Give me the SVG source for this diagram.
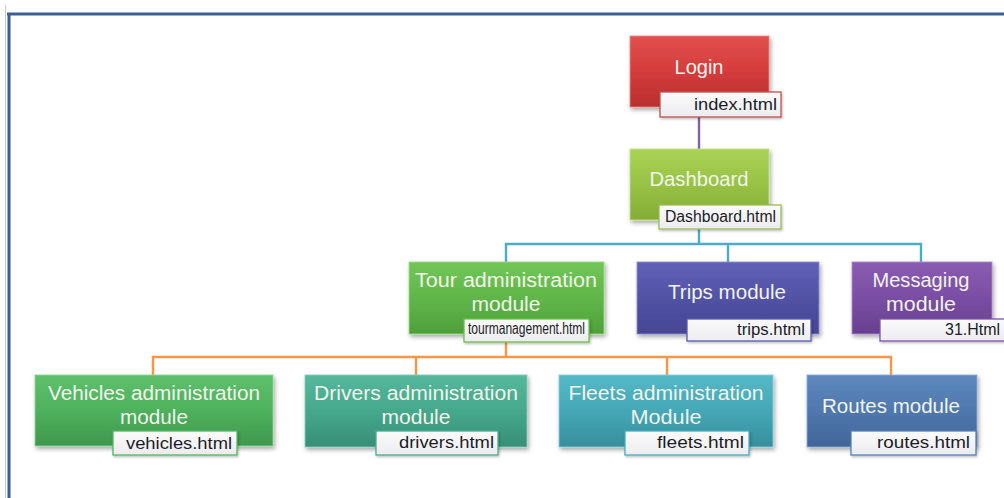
<svg xmlns="http://www.w3.org/2000/svg" width="1004" height="498" viewBox="0 0 1004 498">
  <defs>
    <filter id="shadow" x="-10%" y="-10%" width="125%" height="135%">
      <feDropShadow dx="1.5" dy="2.5" stdDeviation="2" flood-color="#000" flood-opacity="0.35"/>
    </filter>
    <filter id="tagShadow" x="-10%" y="-20%" width="125%" height="160%">
      <feDropShadow dx="1" dy="1.5" stdDeviation="1.2" flood-color="#000" flood-opacity="0.25"/>
    </filter>
    <linearGradient id="gRed" x1="0" y1="0" x2="0" y2="1">
      <stop offset="0" stop-color="#e2504f"/><stop offset="0.5" stop-color="#d43c3c"/><stop offset="1" stop-color="#b92f2f"/>
    </linearGradient>
    <linearGradient id="gLime" x1="0" y1="0" x2="0" y2="1">
      <stop offset="0" stop-color="#aad256"/><stop offset="0.5" stop-color="#98c245"/><stop offset="1" stop-color="#84ac36"/>
    </linearGradient>
    <linearGradient id="gGreen" x1="0" y1="0" x2="0" y2="1">
      <stop offset="0" stop-color="#72c658"/><stop offset="0.5" stop-color="#60b648"/><stop offset="1" stop-color="#4f9f3c"/>
    </linearGradient>
    <linearGradient id="gIndigo" x1="0" y1="0" x2="0" y2="1">
      <stop offset="0" stop-color="#6060b6"/><stop offset="0.5" stop-color="#5252a6"/><stop offset="1" stop-color="#464694"/>
    </linearGradient>
    <linearGradient id="gPurple" x1="0" y1="0" x2="0" y2="1">
      <stop offset="0" stop-color="#8a5cb2"/><stop offset="0.5" stop-color="#7a4ea4"/><stop offset="1" stop-color="#68408f"/>
    </linearGradient>
    <linearGradient id="gLeaf" x1="0" y1="0" x2="0" y2="1">
      <stop offset="0" stop-color="#5fc06c"/><stop offset="0.5" stop-color="#4eb15d"/><stop offset="1" stop-color="#3f984d"/>
    </linearGradient>
    <linearGradient id="gSea" x1="0" y1="0" x2="0" y2="1">
      <stop offset="0" stop-color="#55b89d"/><stop offset="0.5" stop-color="#45a88c"/><stop offset="1" stop-color="#378f77"/>
    </linearGradient>
    <linearGradient id="gTeal" x1="0" y1="0" x2="0" y2="1">
      <stop offset="0" stop-color="#55b8c6"/><stop offset="0.5" stop-color="#45a8b6"/><stop offset="1" stop-color="#378e9c"/>
    </linearGradient>
    <linearGradient id="gBlue" x1="0" y1="0" x2="0" y2="1">
      <stop offset="0" stop-color="#5e88be"/><stop offset="0.5" stop-color="#4f78ae"/><stop offset="1" stop-color="#416597"/>
    </linearGradient>
    <linearGradient id="gTag" x1="0" y1="0" x2="0" y2="1">
      <stop offset="0" stop-color="#fbfbfb"/><stop offset="1" stop-color="#ececf0"/>
    </linearGradient>
  </defs>
  <style>
    .box { filter: url(#shadow); stroke-width: 1.2; stroke-opacity: 0.7; }
    .tag { fill: url(#gTag); stroke-width: 1.3; filter: url(#tagShadow); }
    .title { font-family: "Liberation Sans", Arial, sans-serif; font-size: 20px; fill: #f2f4ec; text-anchor: middle; }
    .file { font-family: "Liberation Sans", Arial, sans-serif; font-size: 16px; fill: #1c1c28; text-anchor: end; }
    .link { fill: none; stroke-width: 2.4; }
  </style>

  <rect x="0" y="0" width="1004" height="498" fill="#ffffff"/>

  <!-- page frame -->
  <g id="frame">
    <line x1="5.5" y1="5" x2="5.5" y2="498" stroke="#c9c9c9" stroke-width="1"/>
    <line x1="7" y1="14" x2="1004" y2="14" stroke="#3d5e92" stroke-width="3"/>
    <line x1="9" y1="13" x2="9" y2="498" stroke="#3d5e92" stroke-width="3"/>
  </g>

  <!-- connectors -->
  <g id="connectors">
    <path class="link" stroke="#8064a2" d="M699 117 V149"/>
    <path class="link" stroke="#4bacc6" d="M699 229 V244 M506 262 V244 H921 V262 M728 244 V262"/>
    <path class="link" stroke="#f79646" d="M506 342 V357 M153 375 V357 H891 V375 M416 357 V375 M667 357 V375"/>
  </g>

  <g id="login">
    <rect class="box" x="630" y="36" width="139" height="71" fill="url(#gRed)" stroke="#ee8a8a"/>
    <text class="title" x="699" y="74" textLength="49" lengthAdjust="spacingAndGlyphs">Login</text>
    <rect class="tag" x="660" y="92" width="121" height="25" stroke="#c0504d"/>
    <text class="file" x="777" y="110" textLength="83" lengthAdjust="spacingAndGlyphs">index.html</text>
  </g>

  <g id="dashboard">
    <rect class="box" x="630" y="149" width="139" height="71" fill="url(#gLime)" stroke="#c8e488"/>
    <text class="title" x="699" y="186" textLength="99" lengthAdjust="spacingAndGlyphs">Dashboard</text>
    <rect class="tag" x="659" y="205" width="122" height="24" stroke="#9bbb59"/>
    <text class="file" x="776" y="222" textLength="111" lengthAdjust="spacingAndGlyphs">Dashboard.html</text>
  </g>

  <g id="tour">
    <rect class="box" x="409" y="262" width="195" height="72" fill="url(#gGreen)" stroke="#9ede86"/>
    <text class="title" x="506" y="287" textLength="182" lengthAdjust="spacingAndGlyphs">Tour administration</text>
    <text class="title" x="506" y="311" textLength="69" lengthAdjust="spacingAndGlyphs">module</text>
    <rect class="tag" x="464" y="319" width="125" height="23" stroke="#6abf4b"/>
    <text class="file" x="585" y="334" font-size="13" textLength="117" lengthAdjust="spacingAndGlyphs">tourmanagement.html</text>
  </g>

  <g id="trips">
    <rect class="box" x="637" y="262" width="182" height="72" fill="url(#gIndigo)" stroke="#9090d4"/>
    <text class="title" x="727" y="299" textLength="118" lengthAdjust="spacingAndGlyphs">Trips module</text>
    <rect class="tag" x="687" y="319" width="124" height="22" stroke="#5a5ab0"/>
    <text class="file" x="805" y="335" textLength="68" lengthAdjust="spacingAndGlyphs">trips.html</text>
  </g>

  <g id="messaging">
    <rect class="box" x="852" y="262" width="140" height="72" fill="url(#gPurple)" stroke="#ae8ccc"/>
    <text class="title" x="921" y="287" textLength="97" lengthAdjust="spacingAndGlyphs">Messaging</text>
    <text class="title" x="921" y="311" textLength="70" lengthAdjust="spacingAndGlyphs">module</text>
    <rect class="tag" x="880" y="319" width="130" height="22" stroke="#7f55a8"/>
    <text class="file" x="1000" y="335" textLength="55" lengthAdjust="spacingAndGlyphs">31.Html</text>
  </g>

  <g id="vehicles">
    <rect class="box" x="35" y="375" width="238" height="71" fill="url(#gLeaf)" stroke="#8ed89a"/>
    <text class="title" x="154" y="400" textLength="212" lengthAdjust="spacingAndGlyphs">Vehicles administration</text>
    <text class="title" x="154" y="424" textLength="68" lengthAdjust="spacingAndGlyphs">module</text>
    <rect class="tag" x="113" y="431" width="124" height="24" stroke="#55b563"/>
    <text class="file" x="232" y="449" textLength="106" lengthAdjust="spacingAndGlyphs">vehicles.html</text>
  </g>

  <g id="drivers">
    <rect class="box" x="305" y="375" width="222" height="72" fill="url(#gSea)" stroke="#88d0bc"/>
    <text class="title" x="416" y="400" textLength="204" lengthAdjust="spacingAndGlyphs">Drivers administration</text>
    <text class="title" x="416" y="424" textLength="69" lengthAdjust="spacingAndGlyphs">module</text>
    <rect class="tag" x="376" y="431" width="122" height="24" stroke="#4bab90"/>
    <text class="file" x="494" y="448" textLength="95" lengthAdjust="spacingAndGlyphs">drivers.html</text>
  </g>

  <g id="fleets">
    <rect class="box" x="559" y="375" width="214" height="72" fill="url(#gTeal)" stroke="#8ad0da"/>
    <text class="title" x="666" y="400" textLength="195" lengthAdjust="spacingAndGlyphs">Fleets administration</text>
    <text class="title" x="666" y="424" textLength="71" lengthAdjust="spacingAndGlyphs">Module</text>
    <rect class="tag" x="625" y="431" width="124" height="24" stroke="#4aacba"/>
    <text class="file" x="744" y="448" textLength="87" lengthAdjust="spacingAndGlyphs">fleets.html</text>
  </g>

  <g id="routes">
    <rect class="box" x="807" y="375" width="170" height="72" fill="url(#gBlue)" stroke="#90aed8"/>
    <text class="title" x="891" y="413" textLength="138" lengthAdjust="spacingAndGlyphs">Routes module</text>
    <rect class="tag" x="851" y="431" width="125" height="24" stroke="#5580b6"/>
    <text class="file" x="970" y="448" textLength="93" lengthAdjust="spacingAndGlyphs">routes.html</text>
  </g>
</svg>
